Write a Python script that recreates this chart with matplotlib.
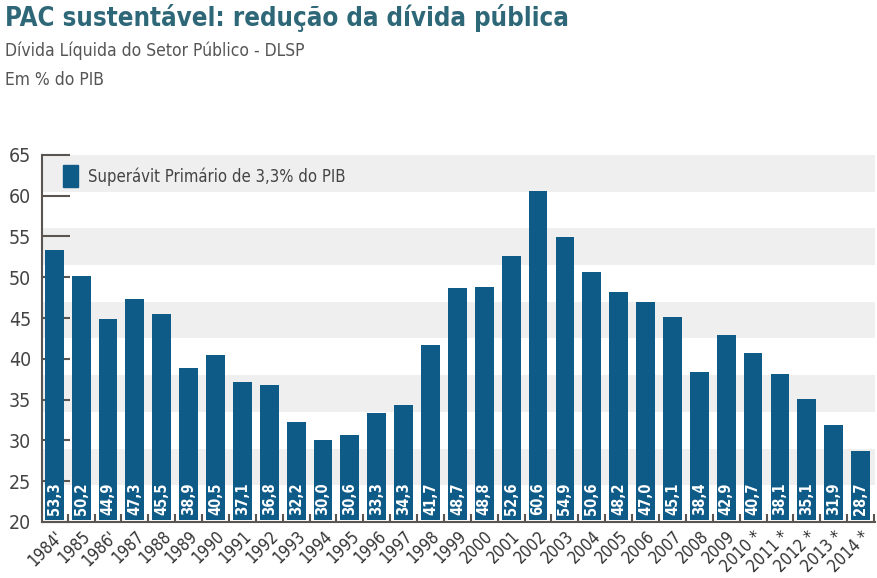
import matplotlib.pyplot as plt
from matplotlib.patches import Patch
from matplotlib.ticker import MultipleLocator

years = ["1984'", "1985", "1986'", "1987", "1988", "1989", "1990", "1991",
         "1992", "1993", "1994", "1995", "1996", "1997", "1998", "1999",
         "2000", "2001", "2002", "2003", "2004", "2005", "2006", "2007",
         "2008", "2009", "2010 *", "2011 *", "2012 *", "2013 *", "2014 *"]
dlsp = [53.3, 50.2, 44.9, 47.3, 45.5, 38.9, 40.5, 37.1, 36.8, 32.2, 30.0,
        30.6, 33.3, 34.3, 41.7, 48.7, 48.8, 52.6, 60.6, 54.9, 50.6, 48.2,
        47.0, 45.1, 38.4, 42.9, 40.7, 38.1, 35.1, 31.9, 28.7]
legend_label = "Superávit Primário de 3,3% do PIB"

bar_color = '#0f5b88'
axis_color = '#5a5550'
plt.rcParams['font.family'] = ['DejaVu Sans']
plt.rcParams['font.stretch'] = 'condensed'

fig = plt.figure(figsize=(8.78, 5.78), dpi=100)
ax = fig.add_axes([0.048, 0.097, 0.949, 0.635])

# alternating background bands
y = 65.0
k = 0
while y > 20:
    if k % 2 == 0:
        ax.axhspan(y - 4.5, y, color='#efefef', zorder=0, lw=0)
    y -= 4.5
    k += 1

x = list(range(len(years)))
base = 20.25
ax.bar(x, [v - base for v in dlsp], bottom=base, width=0.7,
       color=bar_color, zorder=2)

for i, v in enumerate(dlsp):
    ax.text(i, 20.9, f'{v:.1f}'.replace('.', ','), rotation=90,
            ha='center', va='bottom', color='white', fontsize=10.5,
            fontweight='bold', zorder=3)

ax.set_ylim(20, 65)
ax.set_xlim(-0.45, 30.55)
ax.yaxis.set_major_locator(MultipleLocator(5))
ax.set_xticks(x)
ax.set_xticklabels(years, rotation=45, ha='right', rotation_mode='anchor',
                   fontsize=12, color='#333333')
ax.set_xticks([i + 0.5 for i in x], minor=True)
ax.tick_params(axis='x', which='major', length=0, pad=4)
ax.tick_params(axis='x', which='minor', direction='in', length=6,
               width=1.5, color=axis_color)
ax.tick_params(axis='y', direction='in', length=20, width=1.5,
               color=axis_color, labelsize=14, labelcolor='#444444', pad=8)

for s in ['top', 'right']:
    ax.spines[s].set_visible(False)
for s in ['left', 'bottom']:
    ax.spines[s].set_color(axis_color)
    ax.spines[s].set_linewidth(1.5)

ax.legend(handles=[Patch(color=bar_color, label=legend_label)],
          loc='upper left', bbox_to_anchor=(0.007, 1.012), frameon=False,
          fontsize=12, handlelength=0.9, handleheight=1.6,
          handletextpad=0.6, labelcolor='#444444')

fig.text(0.006, 0.969, 'PAC sustentável: redução da dívida pública',
         fontsize=18.5, fontweight='bold', color='#2e6878', va='center')
fig.text(0.006, 0.913, 'Dívida Líquida do Setor Público - DLSP',
         fontsize=12.5, color='#555555', va='center')
fig.text(0.006, 0.862, 'Em % do PIB', fontsize=12.5, color='#555555',
         va='center')

fig.savefig('out.png', dpi=100)
